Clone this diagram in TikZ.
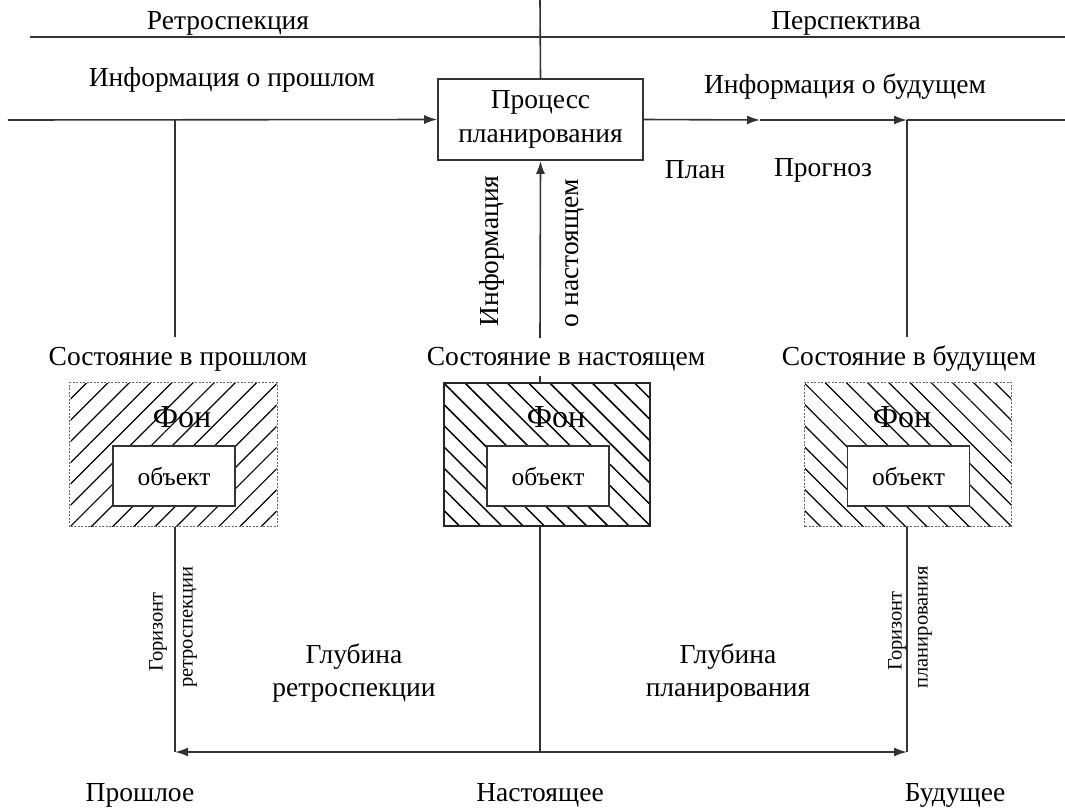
\documentclass[tikz,border=0pt]{standalone}
\usepackage{fontspec}
\setmainfont{Liberation Serif}
\usetikzlibrary{arrows.meta,patterns.meta}

\tikzset{
  txt/.style={font=\fontsize{27.5}{33}\selectfont, inner sep=1pt, align=center},
  sidetxt/.style={font=\fontsize{20.5}{24}\selectfont, inner sep=1pt, rotate=90},
  fonbox/.style={minimum width=206pt, minimum height=143pt, inner sep=0pt},
  dotborder/.style={draw=black!60, line width=1pt, dash pattern=on 2pt off 1.5pt},
  objbox/.style={draw=black!80, fill=white, line width=1.6pt, minimum width=122pt, minimum height=60pt,
                 font=\fontsize{25.5}{30}\selectfont},
  fontxt/.style={font=\fontsize{32}{36}\selectfont, inner sep=0pt},
  tip/.style={-{Latex[length=13pt,width=9pt]}},
}

\begin{document}
\begin{tikzpicture}[x=1pt,y=-1pt]
    \useasboundingbox (0,0) rectangle (1065,809);

    % time and information axes
    \coordinate (hl) at (30,37);
    \coordinate (hr) at (1065,37);
    \coordinate (ttop) at (540,0);
    \coordinate (lstart) at (8,120);
    \coordinate (pastj) at (175,120);
    \coordinate (midarr) at (760,120);
    \coordinate (futj) at (907,120);
    \coordinate (rend) at (1065,120);
    \coordinate (pastup) at (175,337);
    \coordinate (nowup) at (540,338);
    \coordinate (futup) at (907,337);
    \coordinate (nowtick) at (540,376);
    \coordinate (nowbot) at (540,526);
    \coordinate (pastdn) at (175,752);
    \coordinate (nowdn) at (540,752);
    \coordinate (futdn) at (907,752);

    \begin{scope}[every node/.style={txt}]
        \node (retro) at (228,23) {Ретроспекция};
        \node (persp) at (846,23) {Перспектива};
        \node (infopast) at (232,80) {Информация о прошлом};
        \node (infofut) at (845,87) {Информация о будущем};
        \node[draw=black!80, fill=white, line width=1.6pt, minimum width=205pt, minimum height=81pt,
              inner sep=0pt, font=\fontsize{27.5}{34}\selectfont] (proc) at (540.5,119.5) {Процесс\\планирования};
        \node (plan) at (695,170) {План};
        \node (forecast) at (823,170) {Прогноз};
        \node[rotate=90] (infonow1) at (492,251) {Информация};
        \node[rotate=90] (infonow2) at (575,253) {о настоящем};

        \node (statepast) at (178,359) {Состояние в прошлом};
        \node (statenow) at (566,359) {Состояние в настоящем};
        \node (statefut) at (909,359) {Состояние в будущем};

        \node (depthpast) at (354,673) {Глубина\\ретроспекции};
        \node (depthfut) at (728,673) {Глубина\\планирования};

        \node (past) at (140,795) {Прошлое};
        \node (now) at (540,795) {Настоящее};
        \node (fut) at (955,795) {Будущее};
    \end{scope}

    % background and object boxes
    \node[fonbox, pattern={Lines[angle=45,distance=15pt,line width=1.2pt]}] (pastbg) at (173.5,454.5) {};
    \node[fonbox, draw=black!85, line width=1.6pt,
          pattern={Lines[angle=-45,distance=15pt,line width=1.5pt]}] (nowbg) at (547,454.5) {};
    \node[fonbox, pattern={Lines[angle=-45,distance=15pt,line width=1.2pt]}] (futbg) at (908,454.5) {};
    \draw[dotborder] (pastbg.south west) rectangle (pastbg.north east);
    \draw[dotborder] (futbg.south west) rectangle (futbg.north east);

    \node[objbox] (pastobj) at (174,476) {объект};
    \node[objbox] (nowobj) at (548,476) {объект};
    \node[objbox] (futobj) at (908.5,476) {объект};

    \node[fontxt] (pastfon) at (182,417) {Фон};
    \node[fontxt] (nowfon) at (556,417) {Фон};
    \node[fontxt] (futfon) at (902,417) {Фон};

    \begin{scope}[every node/.style={sidetxt}]
        \node (horpast1) at (158,632) {Горизонт};
        \node (horpast2) at (190,627) {ретроспекции};
        \node (horfut1) at (897,631) {Горизонт};
        \node (horfut2) at (925,627) {планирования};
    \end{scope}

    \begin{scope}[every edge/.style={draw, line width=1.6pt, black!80}]
        \path [-] (hl) edge (hr);
        \path [-] (ttop) edge (proc.north);
        \path [tip] (lstart) edge (proc.west);
        \path [-] (pastj) edge (pastup);
        \path [tip] (proc.east) edge (midarr);
        \path [tip] (midarr) edge (futj);
        \path [-] (futj) edge (rend);
        \path [-] (futj) edge (futup);
        \path [tip] (nowup) edge (proc.south);
        \path [-] (nowtick) edge (nowbg.north -| nowtick);

        \path [-] (pastbg.south -| pastdn) edge (pastdn);
        \path [-] (nowbot) edge (nowdn);
        \path [-] (futbg.south -| futdn) edge (futdn);
        \path [{Latex[length=13pt,width=9pt]}-{Latex[length=13pt,width=9pt]}, black] (pastdn) edge (futdn);
    \end{scope}
\end{tikzpicture}
\end{document}
